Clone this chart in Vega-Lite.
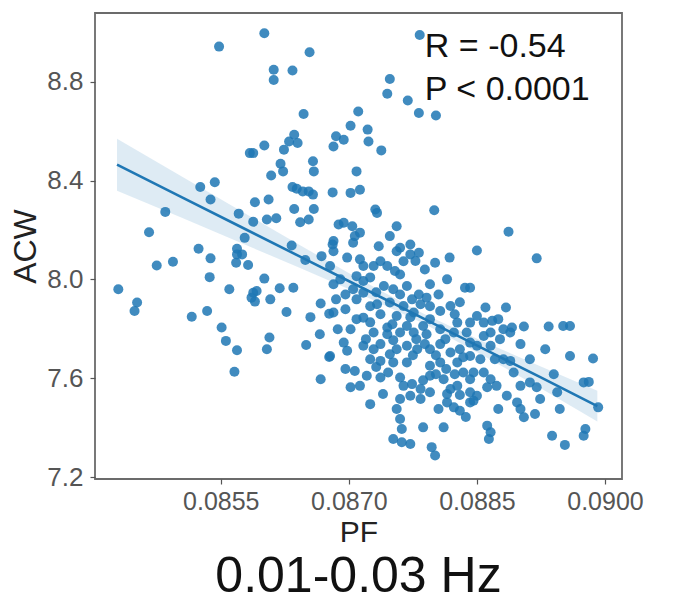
{
  "$schema": "https://vega.github.io/schema/vega-lite/v6.json",
  "width": 527,
  "height": 466,
  "autosize": {"type": "none"},
  "padding": {"left": 95, "top": 13, "right": 51, "bottom": 127},
  "background": "white",
  "title": {
    "text": "0.01-0.03 Hz",
    "orient": "bottom",
    "anchor": "middle",
    "frame": "group",
    "fontSize": 50,
    "font": "Liberation Sans",
    "fontWeight": "normal",
    "color": "#111",
    "offset": 5
  },
  "datasets": {
    "pts": [
      {"pf": 0.08548, "acw": 8.942}, {"pf": 0.08601, "acw": 8.996}, {"pf": 0.08654, "acw": 8.919}, {"pf": 0.08612, "acw": 8.848},
      {"pf": 0.08612, "acw": 8.807}, {"pf": 0.08634, "acw": 8.845}, {"pf": 0.08647, "acw": 8.669}, {"pf": 0.08636, "acw": 8.585},
      {"pf": 0.08630, "acw": 8.558}, {"pf": 0.08640, "acw": 8.552}, {"pf": 0.08624, "acw": 8.525}, {"pf": 0.08601, "acw": 8.542},
      {"pf": 0.08584, "acw": 8.511}, {"pf": 0.08588, "acw": 8.511}, {"pf": 0.08620, "acw": 8.468}, {"pf": 0.08623, "acw": 8.437},
      {"pf": 0.08609, "acw": 8.420}, {"pf": 0.08658, "acw": 8.478}, {"pf": 0.08659, "acw": 8.437}, {"pf": 0.08682, "acw": 8.538},
      {"pf": 0.08685, "acw": 8.579}, {"pf": 0.08634, "acw": 8.374}, {"pf": 0.08639, "acw": 8.367}, {"pf": 0.08646, "acw": 8.356},
      {"pf": 0.08653, "acw": 8.356}, {"pf": 0.08658, "acw": 8.343}, {"pf": 0.08681, "acw": 8.352}, {"pf": 0.08526, "acw": 8.374},
      {"pf": 0.08543, "acw": 8.393}, {"pf": 0.08538, "acw": 8.323}, {"pf": 0.08485, "acw": 8.273}, {"pf": 0.08466, "acw": 8.191},
      {"pf": 0.08590, "acw": 8.312}, {"pf": 0.08606, "acw": 8.323}, {"pf": 0.08571, "acw": 8.266}, {"pf": 0.08588, "acw": 8.233},
      {"pf": 0.08604, "acw": 8.242}, {"pf": 0.08615, "acw": 8.247}, {"pf": 0.08636, "acw": 8.285}, {"pf": 0.08659, "acw": 8.285},
      {"pf": 0.08643, "acw": 8.231}, {"pf": 0.08653, "acw": 8.242}, {"pf": 0.08578, "acw": 8.168}, {"pf": 0.08633, "acw": 8.137},
      {"pf": 0.08682, "acw": 8.155}, {"pf": 0.08688, "acw": 8.222}, {"pf": 0.08524, "acw": 8.124}, {"pf": 0.08569, "acw": 8.124},
      {"pf": 0.08783, "acw": 8.989}, {"pf": 0.08748, "acw": 8.811}, {"pf": 0.08745, "acw": 8.751}, {"pf": 0.08769, "acw": 8.724},
      {"pf": 0.08782, "acw": 8.673}, {"pf": 0.08802, "acw": 8.663}, {"pf": 0.08711, "acw": 8.679}, {"pf": 0.08702, "acw": 8.622},
      {"pf": 0.08722, "acw": 8.606}, {"pf": 0.08723, "acw": 8.558}, {"pf": 0.08738, "acw": 8.522}, {"pf": 0.08694, "acw": 8.565},
      {"pf": 0.08709, "acw": 8.437}, {"pf": 0.08702, "acw": 8.350}, {"pf": 0.08713, "acw": 8.363}, {"pf": 0.08731, "acw": 8.283},
      {"pf": 0.08733, "acw": 8.269}, {"pf": 0.08800, "acw": 8.280}, {"pf": 0.08694, "acw": 8.229}, {"pf": 0.08704, "acw": 8.215},
      {"pf": 0.08713, "acw": 8.189}, {"pf": 0.08707, "acw": 8.175}, {"pf": 0.08756, "acw": 8.215}, {"pf": 0.08748, "acw": 8.175},
      {"pf": 0.08887, "acw": 8.193}, {"pf": 0.08735, "acw": 8.134}, {"pf": 0.08772, "acw": 8.141}, {"pf": 0.08760, "acw": 8.128},
      {"pf": 0.08850, "acw": 8.117}, {"pf": 0.08430, "acw": 7.960}, {"pf": 0.08452, "acw": 7.906}, {"pf": 0.08449, "acw": 7.872},
      {"pf": 0.08475, "acw": 8.056}, {"pf": 0.08494, "acw": 8.071}, {"pf": 0.08538, "acw": 8.085}, {"pf": 0.08537, "acw": 8.009},
      {"pf": 0.08516, "acw": 7.849}, {"pf": 0.08534, "acw": 7.872}, {"pf": 0.08560, "acw": 7.960}, {"pf": 0.08569, "acw": 8.101},
      {"pf": 0.08575, "acw": 8.101}, {"pf": 0.08568, "acw": 8.067}, {"pf": 0.08582, "acw": 8.058}, {"pf": 0.08551, "acw": 7.805},
      {"pf": 0.08556, "acw": 7.751}, {"pf": 0.08569, "acw": 7.713}, {"pf": 0.08566, "acw": 7.626}, {"pf": 0.08588, "acw": 7.946},
      {"pf": 0.08592, "acw": 7.953}, {"pf": 0.08586, "acw": 7.926}, {"pf": 0.08590, "acw": 7.910}, {"pf": 0.08601, "acw": 8.003},
      {"pf": 0.08608, "acw": 7.919}, {"pf": 0.08619, "acw": 7.964}, {"pf": 0.08635, "acw": 7.966}, {"pf": 0.08627, "acw": 7.868},
      {"pf": 0.08607, "acw": 7.765}, {"pf": 0.08604, "acw": 7.717}, {"pf": 0.08650, "acw": 7.734}, {"pf": 0.08667, "acw": 7.902},
      {"pf": 0.08677, "acw": 7.861}, {"pf": 0.08677, "acw": 7.686}, {"pf": 0.08667, "acw": 7.596}, {"pf": 0.08649, "acw": 8.078},
      {"pf": 0.08668, "acw": 8.094}, {"pf": 0.08678, "acw": 8.054}, {"pf": 0.08682, "acw": 7.980}, {"pf": 0.08681, "acw": 8.141},
      {"pf": 0.08682, "acw": 8.114}, {"pf": 0.08705, "acw": 8.148}, {"pf": 0.08756, "acw": 8.114}, {"pf": 0.08772, "acw": 8.101},
      {"pf": 0.08782, "acw": 8.108}, {"pf": 0.08778, "acw": 8.074}, {"pf": 0.08801, "acw": 8.067}, {"pf": 0.08818, "acw": 8.088},
      {"pf": 0.08698, "acw": 8.088}, {"pf": 0.08717, "acw": 8.054}, {"pf": 0.08729, "acw": 8.054}, {"pf": 0.08709, "acw": 8.013},
      {"pf": 0.08717, "acw": 7.993}, {"pf": 0.08745, "acw": 8.054}, {"pf": 0.08754, "acw": 8.034}, {"pf": 0.08690, "acw": 8.000},
      {"pf": 0.08815, "acw": 8.000}, {"pf": 0.08836, "acw": 7.966}, {"pf": 0.08805, "acw": 7.939}, {"pf": 0.08705, "acw": 7.960},
      {"pf": 0.08717, "acw": 7.946}, {"pf": 0.08709, "acw": 7.919}, {"pf": 0.08741, "acw": 7.973}, {"pf": 0.08752, "acw": 7.960},
      {"pf": 0.08768, "acw": 7.973}, {"pf": 0.08782, "acw": 7.939}, {"pf": 0.08791, "acw": 7.926}, {"pf": 0.08784, "acw": 7.899},
      {"pf": 0.08733, "acw": 7.899}, {"pf": 0.08748, "acw": 7.906}, {"pf": 0.08764, "acw": 7.892}, {"pf": 0.08819, "acw": 7.892},
      {"pf": 0.08807, "acw": 7.872}, {"pf": 0.08682, "acw": 7.866}, {"pf": 0.08717, "acw": 7.845}, {"pf": 0.08737, "acw": 7.859},
      {"pf": 0.08756, "acw": 7.852}, {"pf": 0.08776, "acw": 7.866}, {"pf": 0.08795, "acw": 7.839}, {"pf": 0.08702, "acw": 7.798},
      {"pf": 0.08745, "acw": 7.805}, {"pf": 0.08768, "acw": 7.811}, {"pf": 0.08787, "acw": 7.811}, {"pf": 0.08807, "acw": 7.798},
      {"pf": 0.08827, "acw": 7.825}, {"pf": 0.08842, "acw": 7.825}, {"pf": 0.08850, "acw": 7.852}, {"pf": 0.08920, "acw": 8.085},
      {"pf": 0.08842, "acw": 7.966}, {"pf": 0.08860, "acw": 7.886}, {"pf": 0.08884, "acw": 7.886}, {"pf": 0.08858, "acw": 7.825},
      {"pf": 0.08868, "acw": 7.832}, {"pf": 0.08881, "acw": 7.798}, {"pf": 0.08891, "acw": 7.805}, {"pf": 0.08905, "acw": 7.809},
      {"pf": 0.08934, "acw": 7.809}, {"pf": 0.08951, "acw": 7.811}, {"pf": 0.08959, "acw": 7.811}, {"pf": 0.08866, "acw": 7.785},
      {"pf": 0.08694, "acw": 7.744}, {"pf": 0.08698, "acw": 7.711}, {"pf": 0.08678, "acw": 7.690}, {"pf": 0.08729, "acw": 7.785},
      {"pf": 0.08745, "acw": 7.778}, {"pf": 0.08760, "acw": 7.785}, {"pf": 0.08776, "acw": 7.785}, {"pf": 0.08791, "acw": 7.778},
      {"pf": 0.08823, "acw": 7.785}, {"pf": 0.08838, "acw": 7.785}, {"pf": 0.08717, "acw": 7.731}, {"pf": 0.08729, "acw": 7.717},
      {"pf": 0.08725, "acw": 7.677}, {"pf": 0.08737, "acw": 7.670}, {"pf": 0.08756, "acw": 7.717}, {"pf": 0.08768, "acw": 7.731},
      {"pf": 0.08780, "acw": 7.717}, {"pf": 0.08795, "acw": 7.717}, {"pf": 0.08807, "acw": 7.738}, {"pf": 0.08819, "acw": 7.704},
      {"pf": 0.08830, "acw": 7.717}, {"pf": 0.08842, "acw": 7.744}, {"pf": 0.08752, "acw": 7.664}, {"pf": 0.08768, "acw": 7.664},
      {"pf": 0.08746, "acw": 7.623}, {"pf": 0.08795, "acw": 7.650}, {"pf": 0.08807, "acw": 7.664}, {"pf": 0.08795, "acw": 7.610},
      {"pf": 0.08811, "acw": 7.596}, {"pf": 0.08827, "acw": 7.664}, {"pf": 0.08834, "acw": 7.623}, {"pf": 0.08842, "acw": 7.596},
      {"pf": 0.08721, "acw": 7.610}, {"pf": 0.08737, "acw": 7.603}, {"pf": 0.08713, "acw": 7.569}, {"pf": 0.08702, "acw": 7.563},
      {"pf": 0.08760, "acw": 7.603}, {"pf": 0.08764, "acw": 7.569}, {"pf": 0.08784, "acw": 7.556}, {"pf": 0.08795, "acw": 7.543},
      {"pf": 0.08819, "acw": 7.556}, {"pf": 0.08827, "acw": 7.569}, {"pf": 0.08842, "acw": 7.543}, {"pf": 0.08850, "acw": 7.529},
      {"pf": 0.08725, "acw": 7.495}, {"pf": 0.08760, "acw": 7.516}, {"pf": 0.08772, "acw": 7.529}, {"pf": 0.08784, "acw": 7.516},
      {"pf": 0.08815, "acw": 7.502}, {"pf": 0.08823, "acw": 7.482}, {"pf": 0.08830, "acw": 7.468}, {"pf": 0.08842, "acw": 7.502},
      {"pf": 0.08756, "acw": 7.475}, {"pf": 0.08760, "acw": 7.435}, {"pf": 0.08762, "acw": 7.394}, {"pf": 0.08787, "acw": 7.401},
      {"pf": 0.08811, "acw": 7.401}, {"pf": 0.08752, "acw": 7.354}, {"pf": 0.08762, "acw": 7.341}, {"pf": 0.08772, "acw": 7.334},
      {"pf": 0.08797, "acw": 7.321}, {"pf": 0.08801, "acw": 7.287}, {"pf": 0.08858, "acw": 7.771}, {"pf": 0.08877, "acw": 7.758},
      {"pf": 0.08866, "acw": 7.731}, {"pf": 0.08850, "acw": 7.731}, {"pf": 0.08889, "acw": 7.785}, {"pf": 0.08842, "acw": 7.690},
      {"pf": 0.08881, "acw": 7.677}, {"pf": 0.08889, "acw": 7.670}, {"pf": 0.08959, "acw": 7.690}, {"pf": 0.08986, "acw": 7.680},
      {"pf": 0.08846, "acw": 7.623}, {"pf": 0.08858, "acw": 7.623}, {"pf": 0.08866, "acw": 7.596}, {"pf": 0.08873, "acw": 7.569},
      {"pf": 0.08862, "acw": 7.563}, {"pf": 0.08893, "acw": 7.623}, {"pf": 0.08901, "acw": 7.569}, {"pf": 0.08912, "acw": 7.583},
      {"pf": 0.08920, "acw": 7.563}, {"pf": 0.08940, "acw": 7.616}, {"pf": 0.08975, "acw": 7.583}, {"pf": 0.08981, "acw": 7.585},
      {"pf": 0.08944, "acw": 7.543}, {"pf": 0.08846, "acw": 7.509}, {"pf": 0.08885, "acw": 7.529}, {"pf": 0.08897, "acw": 7.502},
      {"pf": 0.08901, "acw": 7.475}, {"pf": 0.08924, "acw": 7.516}, {"pf": 0.08905, "acw": 7.442}, {"pf": 0.08947, "acw": 7.475},
      {"pf": 0.08992, "acw": 7.482}, {"pf": 0.08862, "acw": 7.408}, {"pf": 0.08866, "acw": 7.381}, {"pf": 0.08864, "acw": 7.354},
      {"pf": 0.08938, "acw": 7.367}, {"pf": 0.08953, "acw": 7.330}, {"pf": 0.08977, "acw": 7.394}, {"pf": 0.08975, "acw": 7.367},
      {"pf": 0.08685, "acw": 7.919}, {"pf": 0.08696, "acw": 7.879}, {"pf": 0.08725, "acw": 7.826}, {"pf": 0.08752, "acw": 7.754},
      {"pf": 0.08779, "acw": 7.758}, {"pf": 0.08802, "acw": 7.693}, {"pf": 0.08814, "acw": 7.637}, {"pf": 0.08787, "acw": 7.592},
      {"pf": 0.08775, "acw": 7.693}, {"pf": 0.08740, "acw": 7.536}, {"pf": 0.08830, "acw": 7.532}, {"pf": 0.08813, "acw": 7.758},
      {"pf": 0.08709, "acw": 7.839}, {"pf": 0.08732, "acw": 7.948}, {"pf": 0.08795, "acw": 7.980}, {"pf": 0.08760, "acw": 7.939},
      {"pf": 0.08830, "acw": 7.907}, {"pf": 0.08854, "acw": 7.677}, {"pf": 0.08871, "acw": 7.677}, {"pf": 0.08837, "acw": 7.443},
      {"pf": 0.08687, "acw": 7.798}, {"pf": 0.08720, "acw": 7.758}, {"pf": 0.08737, "acw": 7.738}, {"pf": 0.08748, "acw": 7.697},
      {"pf": 0.08732, "acw": 7.645}, {"pf": 0.08707, "acw": 7.629}, {"pf": 0.08789, "acw": 7.738}, {"pf": 0.08802, "acw": 7.616},
      {"pf": 0.08824, "acw": 7.616}, {"pf": 0.08834, "acw": 7.685}, {"pf": 0.08815, "acw": 7.536}, {"pf": 0.08805, "acw": 7.475},
      {"pf": 0.08774, "acw": 7.576}, {"pf": 0.08713, "acw": 8.081}, {"pf": 0.08725, "acw": 8.008}, {"pf": 0.08737, "acw": 8.073},
      {"pf": 0.08764, "acw": 8.073}, {"pf": 0.08760, "acw": 8.020}, {"pf": 0.08789, "acw": 8.040}, {"pf": 0.08774, "acw": 7.919},
      {"pf": 0.08795, "acw": 7.891}, {"pf": 0.08772, "acw": 7.847}, {"pf": 0.08751, "acw": 7.818}, {"pf": 0.08725, "acw": 7.891},
      {"pf": 0.08696, "acw": 7.939}, {"pf": 0.08824, "acw": 7.859}, {"pf": 0.08875, "acw": 7.839}, {"pf": 0.08901, "acw": 7.738},
      {"pf": 0.08912, "acw": 7.677}, {"pf": 0.08930, "acw": 7.717}, {"pf": 0.08875, "acw": 7.475}, {"pf": 0.08918, "acw": 7.455},
      {"pf": 0.08696, "acw": 7.637}, {"pf": 0.08666, "acw": 7.778}, {"pf": 0.08655, "acw": 7.847}
    ],
    "fit": [
      {"pf": 0.084285, "fit": 8.464, "lo": 8.359, "hi": 8.569},
      {"pf": 0.085023, "fit": 8.336, "lo": 8.252, "hi": 8.420},
      {"pf": 0.085726, "fit": 8.214, "lo": 8.149, "hi": 8.279},
      {"pf": 0.086429, "fit": 8.092, "lo": 8.046, "hi": 8.138},
      {"pf": 0.087132, "fit": 7.970, "lo": 7.941, "hi": 7.999},
      {"pf": 0.087871, "fit": 7.842, "lo": 7.822, "hi": 7.862},
      {"pf": 0.088539, "fit": 7.726, "lo": 7.698, "hi": 7.754},
      {"pf": 0.089242, "fit": 7.604, "lo": 7.560, "hi": 7.648},
      {"pf": 0.08991, "fit": 7.487, "lo": 7.425, "hi": 7.549}
    ],
    "notes": [
      {"pf": 0.08789, "acw": 8.900, "label": "R = -0.54"},
      {"pf": 0.08789, "acw": 8.727, "label": "P < 0.0001"}
    ]
  },
  "layer": [
    {
      "data": {"name": "pts"},
      "mark": {"type": "circle", "size": 100, "color": "#1f77b4", "opacity": 0.85},
      "encoding": {
        "x": {"field": "pf", "type": "quantitative", "title": "PF",
              "scale": {"domain": [0.084027, 0.090199], "nice": false, "zero": false},
              "axis": {"values": [0.0855, 0.087, 0.0885, 0.09], "format": ".4f"}},
        "y": {"field": "acw", "type": "quantitative", "title": "ACW",
              "scale": {"domain": [7.192, 9.078], "nice": false, "zero": false},
              "axis": {"values": [7.2, 7.6, 8.0, 8.4, 8.8], "format": ".1f"}}
      }
    },
    {
      "data": {"name": "fit"},
      "mark": {"type": "area", "color": "#1f77b4", "opacity": 0.15},
      "encoding": {
        "x": {"field": "pf", "type": "quantitative", "title": "PF",
              "scale": {"domain": [0.084027, 0.090199], "nice": false, "zero": false}},
        "y": {"field": "lo", "type": "quantitative", "title": "ACW",
              "scale": {"domain": [7.192, 9.078], "nice": false, "zero": false}},
        "y2": {"field": "hi"}
      }
    },
    {
      "data": {"name": "fit"},
      "mark": {"type": "line", "color": "#1f77b4", "strokeWidth": 2.6},
      "encoding": {
        "x": {"field": "pf", "type": "quantitative", "title": "PF",
              "scale": {"domain": [0.084027, 0.090199], "nice": false, "zero": false}},
        "y": {"field": "fit", "type": "quantitative", "title": "ACW",
              "scale": {"domain": [7.192, 9.078], "nice": false, "zero": false}}
      }
    },
    {
      "data": {"name": "notes"},
      "mark": {"type": "text", "align": "left", "baseline": "alphabetic", "fontSize": 34, "font": "Liberation Sans", "color": "#111"},
      "encoding": {
        "x": {"field": "pf", "type": "quantitative", "title": "PF",
              "scale": {"domain": [0.084027, 0.090199], "nice": false, "zero": false}},
        "y": {"field": "acw", "type": "quantitative", "title": "ACW",
              "scale": {"domain": [7.192, 9.078], "nice": false, "zero": false}},
        "text": {"field": "label"}
      }
    }
  ],
  "config": {
    "view": {"stroke": "#6b6b6b", "strokeWidth": 1.8},
    "axis": {
      "grid": false,
      "domain": false,
      "ticks": true,
      "tickSize": 5,
      "tickColor": "#555",
      "tickWidth": 1.2,
      "labelFont": "Liberation Sans",
      "labelFontSize": 26,
      "labelColor": "#555",
      "titleFont": "Liberation Sans",
      "titleFontSize": 32,
      "titleFontWeight": "normal",
      "titleColor": "#222"
    },
    "axisX": {"labelPadding": 5, "labelFontSize": 25, "titleFontSize": 30, "titlePadding": 3},
    "axisY": {"labelPadding": 7, "titlePadding": 4}
  }
}
